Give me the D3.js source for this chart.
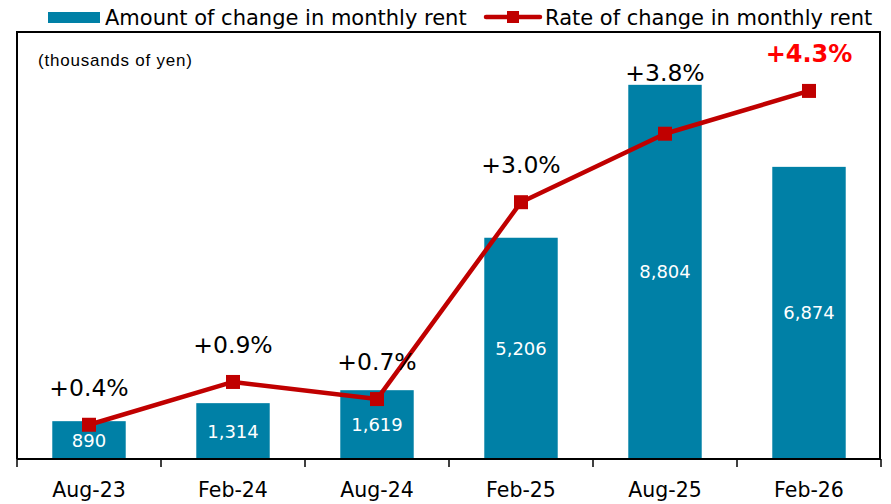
<!DOCTYPE html>
<html>
<head>
<meta charset="utf-8">
<script src="https://cdn.jsdelivr.net/npm/d3@7"></script>
<style>
  html, body { margin: 0; padding: 0; background: #fff; }
  svg { display: block; }
</style>
</head>
<body>
<svg id="chart" width="891" height="504"></svg>
<script>
// Half-yearly periods
const periods = ["Aug-23", "Feb-24", "Aug-24", "Feb-25", "Aug-25", "Feb-26"];
// Amount of change in monthly rent (yen)
const amountChange = [890, 1314, 1619, 5206, 8804, 6874];
// Rate of change in monthly rent (%)
const rateChange = [0.4, 0.9, 0.7, 3.0, 3.8, 4.3];
const rateLabels = ["+0.4%", "+0.9%", "+0.7%", "+3.0%", "+3.8%", "+4.3%"];

const svg = d3.select("#chart");
const plotLeft = 17, plotRight = 881, plotTop = 32, plotBottom = 459;
const font = "DejaVu Sans, Verdana, sans-serif";

const x = d3.scaleBand().domain(periods).range([plotLeft, plotRight]).paddingInner(0.49).paddingOuter(0.245);
const xCenter = d => x(d) + x.bandwidth() / 2;
const yAmt = d3.scaleLinear().domain([0, 10000]).range([plotBottom, 34]);
const yRate = d3.scaleLinear().domain([0, 5]).range([plotBottom, 31]);

const teal = "#0080a6", red = "#c00000";

// Bars
svg.append("g").selectAll("rect").data(periods).join("rect")
  .attr("x", d => x(d))
  .attr("y", (d, i) => yAmt(amountChange[i]))
  .attr("width", x.bandwidth())
  .attr("height", (d, i) => plotBottom - yAmt(amountChange[i]))
  .attr("fill", teal);

// Plot frame (left, top, right)
svg.append("path")
  .attr("d", `M${plotLeft},${plotBottom}V${plotTop}H${plotRight - 1}V${plotBottom}`)
  .attr("fill", "none").attr("stroke", "#000").attr("stroke-width", 2);

// Category axis with boundary ticks
const axisG = svg.append("g");
axisG.append("line").attr("x1", plotLeft).attr("x2", plotRight).attr("y1", plotBottom).attr("y2", plotBottom)
  .attr("stroke", "#000").attr("stroke-width", 2);
const bounds = d3.range(periods.length + 1).map(i => plotLeft + i * x.step());
axisG.selectAll("line.tick").data(bounds).join("line").attr("class", "tick")
  .attr("x1", d => d).attr("x2", d => d).attr("y1", plotBottom).attr("y2", plotBottom + 8)
  .attr("stroke", "#000").attr("stroke-width", 1.5);
axisG.selectAll("text").data(periods).join("text")
  .attr("x", d => xCenter(d)).attr("y", 497)
  .attr("text-anchor", "middle")
  .attr("font-family", font).attr("font-size", 20.5)
  .attr("fill", "#000").text(d => d);

// Bar value labels
svg.append("g").selectAll("text").data(periods).join("text")
  .attr("x", d => xCenter(d))
  .attr("y", (d, i) => (yAmt(amountChange[i]) + plotBottom) / 2 + 6.5)
  .attr("text-anchor", "middle")
  .attr("font-family", font).attr("font-size", 18)
  .attr("fill", "#fff").text((d, i) => d3.format(",")(amountChange[i]));

// Rate line
const line = d3.line().x((d, i) => xCenter(periods[i])).y(d => yRate(d));
svg.append("path").datum(rateChange).attr("d", line)
  .attr("fill", "none").attr("stroke", red).attr("stroke-width", 4.5).attr("stroke-linejoin", "round");
svg.append("g").selectAll("rect").data(rateChange).join("rect")
  .attr("x", (d, i) => xCenter(periods[i]) - 7)
  .attr("y", d => yRate(d) - 7)
  .attr("width", 14).attr("height", 14).attr("fill", red);

// Rate labels: above the point, or above the bar when the bar reaches higher
const last = rateChange.length - 1;
svg.append("g").selectAll("text").data(rateChange).join("text")
  .attr("x", (d, i) => xCenter(periods[i]))
  .attr("y", (d, i) => {
    const py = yRate(d) - 29;
    const barTop = yAmt(amountChange[i]);
    return (py > barTop - 8 && yRate(d) > barTop) ? barTop - 4 : py;
  })
  .attr("text-anchor", "middle")
  .attr("font-family", font)
  .attr("font-size", (d, i) => i === last ? 24 : 23.5)
  .attr("font-weight", (d, i) => i === last ? "bold" : "normal")
  .attr("fill", (d, i) => i === last ? "#ff0000" : "#000")
  .text((d, i) => rateLabels[i]);

// Unit note
svg.append("text").attr("x", 38).attr("y", 66)
  .attr("font-family", "Liberation Sans, Arial, sans-serif").attr("font-size", 17)
  .attr("textLength", 154).attr("lengthAdjust", "spacing")
  .attr("fill", "#000").text("(thousands of yen)");

// Legend
const lg = svg.append("g");
lg.append("rect").attr("x", 48).attr("y", 12).attr("width", 52).attr("height", 11).attr("fill", teal);
lg.append("text").attr("x", 105).attr("y", 25)
  .attr("font-family", font).attr("font-size", 21)
  .attr("fill", "#000").text("Amount of change in monthly rent");
lg.append("line").attr("x1", 486).attr("x2", 540).attr("y1", 17).attr("y2", 17)
  .attr("stroke", red).attr("stroke-width", 4.5).attr("stroke-linecap", "round");
lg.append("rect").attr("x", 507).attr("y", 11).attr("width", 12).attr("height", 12).attr("fill", red);
lg.append("text").attr("x", 545).attr("y", 25)
  .attr("font-family", font).attr("font-size", 21)
  .attr("fill", "#000").text("Rate of change in monthly rent");
</script>
</body>
</html>
